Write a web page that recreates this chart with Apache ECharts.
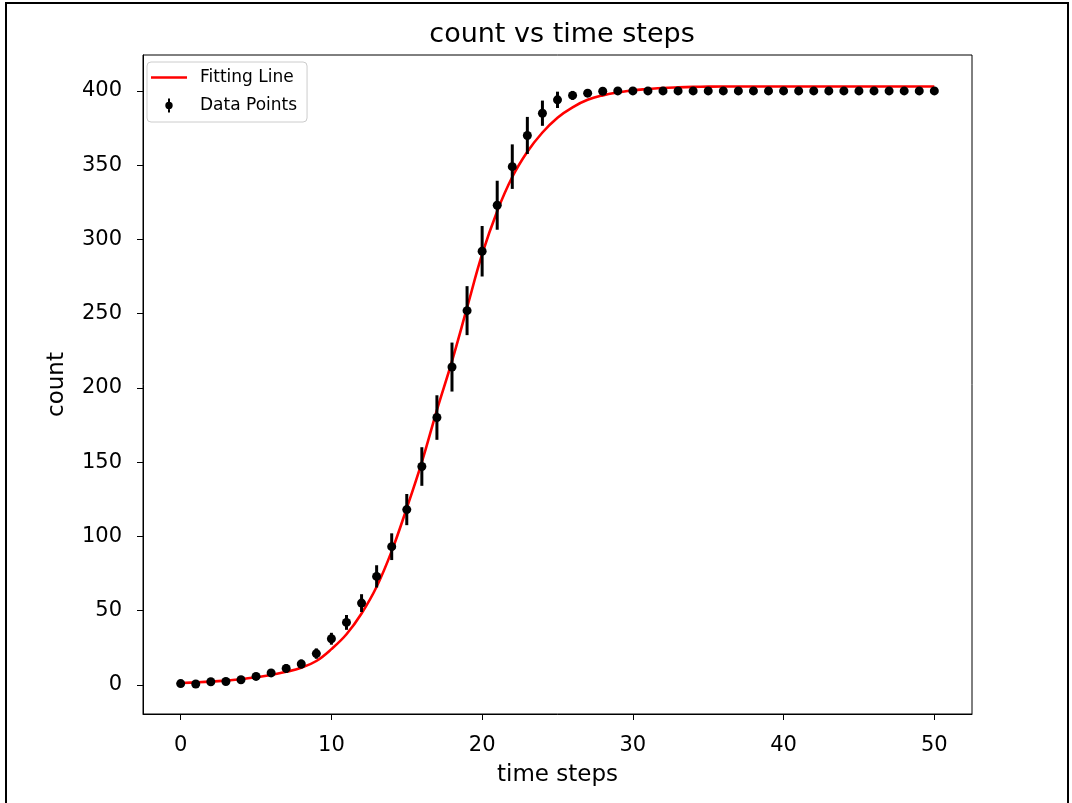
<!DOCTYPE html>
<html>
<head>
<meta charset="utf-8">
<title>count vs time steps</title>
<style>
  html, body { margin: 0; padding: 0; background: #fff; }
  #main { width: 1072px; height: 803px; }
</style>
<script src="https://cdn.jsdelivr.net/npm/echarts@6.0.0/dist/echarts.min.js"></script>
</head>
<body>
<div id="main"></div>
<script>
// time steps (x)
var timeSteps = [0, 1, 2, 3, 4, 5, 6, 7, 8, 9, 10, 11, 12, 13, 14, 15, 16, 17, 18, 19, 20,
    21, 22, 23, 24, 25, 26, 27, 28, 29, 30, 31, 32, 33, 34, 35, 36, 37, 38, 39, 40,
    41, 42, 43, 44, 45, 46, 47, 48, 49, 50];

// measured counts (black dots)
var countValues = [0.8, 0.5, 2, 2.2, 3.4, 5.6, 8, 11, 14, 21, 31, 42, 55, 73, 93, 118, 147, 180, 214, 252, 292,
    323, 349, 370, 385, 394, 397, 398.5, 399.8, 400, 400, 400, 400, 400, 400, 400, 400, 400, 400, 400, 400,
    400, 400, 400, 400, 400, 400, 400, 400, 400, 400];

// error bar half heights
var countErrors = [1, 1, 1.5, 1.5, 2, 2, 2.5, 3, 3, 3.5, 4, 5, 6, 7.5, 9, 10.5, 13, 15, 16.5, 16.5, 17,
    16.5, 15, 12.5, 8.5, 5.5, 3, 2, 1.5, 1, 0.5, 0.5, 0.5, 0.5, 0.5, 0.5, 0.5, 0.5, 0.5, 0.5, 0.5,
    0.5, 0.5, 0.5, 0.5, 0.5, 0.5, 0.5, 0.5, 0.5, 0.5];

// red fitting curve, read at each time step
var fitValues = [1.2, 1.6, 2.1, 2.8, 3.7, 5.0, 6.6, 8.7, 11.5, 16, 24, 34, 48, 66, 90, 119, 150, 185, 218, 254, 290,
    319, 342, 359, 372, 382, 389, 394, 397, 399, 400.5, 401.3, 402, 402.4, 402.7, 402.9, 403, 403, 403, 403, 403,
    403, 403, 403, 403, 403, 403, 403, 403, 403, 403];

// tick labels
var xTicks = [0, 10, 20, 30, 40, 50];
var yTicks = [0, 50, 100, 150, 200, 250, 300, 350, 400];

!function () {

    'use strict';

    var FONT = 'DejaVu Sans';
    var chart = echarts.init(document.getElementById('main'), null, { renderer: 'canvas' });

    var fitData = [], pointData = [], errData = [];
    for (var i = 0; i < timeSteps.length; i++) {
        fitData.push([timeSteps[i], fitValues[i]]);
        pointData.push([timeSteps[i], countValues[i]]);
        errData.push([timeSteps[i], countValues[i], countErrors[i]]);
    }

    /**
     * errorbar: vertical segment from y-e to y+e
     */
    function renderErrorBar(params, api) {
        var x = api.value(0), y = api.value(1), e = api.value(2);
        var lo = api.coord([x, y - e]);
        var hi = api.coord([x, y + e]);
        return {
            type: 'line',
            shape: { x1: lo[0], y1: lo[1], x2: hi[0], y2: hi[1] },
            style: { stroke: '#000', lineWidth: 3 }
        };
    }

    // legend icons drawn in a 36x16 box (corner specks keep the box size)
    var box = 'M0,0h0.1v0.1h-0.1Z M35.9,15.9h0.1v0.1h-0.1Z ';
    var lineIcon = 'path://' + box + 'M0,6.8h36v2.4h-36Z';
    var errIcon = 'path://' + box + 'M17,1h2v14h-2Z M18,4.3a3.7,3.7 0 1,1 -0.01,0Z';

    var option = {
        animation: false,
        backgroundColor: '#fff',
        textStyle: { fontFamily: FONT },
        title: {
            text: 'count vs time steps',
            left: 557,
            top: 16,
            textAlign: 'center',
            textStyle: { fontFamily: FONT, fontSize: 27, fontWeight: 'normal', color: '#000' }
        },
        legend: {
            left: 147,
            top: 62,
            orient: 'vertical',
            itemWidth: 36,
            itemHeight: 16,
            itemGap: 11,
            padding: [7, 10, 8, 4],
            borderColor: '#ccc',
            borderWidth: 1,
            borderRadius: 4,
            backgroundColor: '#fff',
            textStyle: { fontFamily: FONT, fontSize: 17, color: '#000', padding: [0, 0, 0, 8] },
            data: [
                { name: 'Fitting Line', icon: lineIcon, itemStyle: { color: '#ff0000' } },
                { name: 'Data Points', icon: errIcon, itemStyle: { color: '#000' } }
            ]
        },
        grid: {
            left: 143,
            right: 100,
            top: 55,
            bottom: 89,
            show: true,
            borderColor: '#000',
            borderWidth: 1,
            containLabel: false
        },
        xAxis: {
            type: 'value',
            min: -2.5,
            max: 52.5,
            name: 'time steps',
            nameLocation: 'middle',
            nameGap: 50,
            nameTextStyle: { fontFamily: FONT, fontSize: 23, color: '#000' },
            axisLine: { onZero: false, lineStyle: { color: '#000', width: 1 } },
            axisTick: { show: true, length: 6, customValues: xTicks, lineStyle: { color: '#000' } },
            axisLabel: { margin: 21, customValues: xTicks, fontFamily: FONT, fontSize: 21, color: '#000' },
            splitLine: { show: false }
        },
        yAxis: {
            type: 'value',
            min: -19.7,
            max: 424.2,
            name: 'count',
            nameLocation: 'middle',
            nameGap: 74,
            nameTextStyle: { fontFamily: FONT, fontSize: 23, color: '#000' },
            axisLine: { show: true, onZero: false, lineStyle: { color: '#000', width: 1 } },
            axisTick: { show: true, length: 6, customValues: yTicks, lineStyle: { color: '#000' } },
            axisLabel: { margin: 21, customValues: yTicks, fontFamily: FONT, fontSize: 21, color: '#000' },
            splitLine: { show: false }
        },
        graphic: [{
            type: 'rect',
            shape: { x: 6, y: 3, width: 1062, height: 830 },
            style: { fill: 'none', stroke: '#000', lineWidth: 2 },
            silent: true
        }],
        series: [
            {
                name: 'Fitting Line',
                type: 'line',
                data: fitData,
                smooth: 0.4,
                symbol: 'none',
                lineStyle: { color: '#ff0000', width: 2.6 },
                itemStyle: { color: '#ff0000' },
                z: 2
            },
            {
                name: 'Data Points',
                type: 'custom',
                data: errData,
                encode: { x: 0, y: 1 },
                renderItem: renderErrorBar,
                z: 3
            },
            {
                name: 'Data Points',
                type: 'scatter',
                data: pointData,
                symbol: 'circle',
                symbolSize: 9,
                itemStyle: { color: '#000', opacity: 1 },
                z: 4
            }
        ]
    };

    chart.setOption(option);
}();
</script>
</body>
</html>
